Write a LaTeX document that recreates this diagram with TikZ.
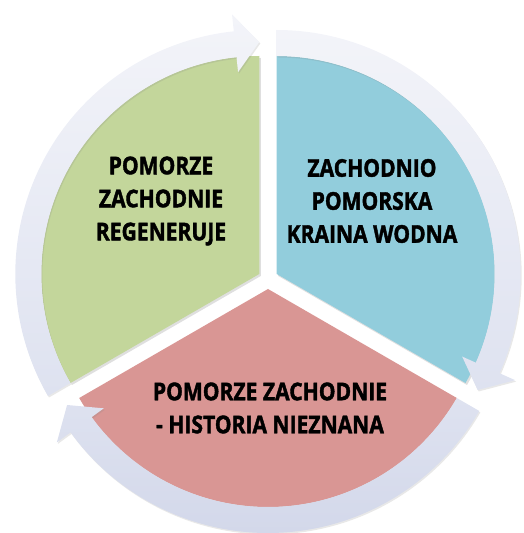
\documentclass[tikz,border=0pt]{standalone}
\usepackage{fontspec}
\setmainfont{Open Sans}[FakeStretch=0.86, BoldFeatures={FakeBold=1.6}]
\usetikzlibrary{shadows}
\definecolor{segGreen}{RGB}{195,214,155}
\definecolor{segBlue}{RGB}{146,205,220}
\definecolor{segPink}{RGB}{217,150,148}
\definecolor{ringLight}{RGB}{243,244,249}
\definecolor{ringMid}{RGB}{222,226,240}
\definecolor{ringDark}{RGB}{211,216,234}
\tikzset{
  sector/.style={drop shadow={opacity=0.25,shadow xshift=1.5pt,shadow yshift=-2pt}},
  ring/.style={drop shadow={opacity=0.18,shadow xshift=1pt,shadow yshift=-1.5pt}},
  label/.style={font=\bfseries\fontsize{24.5}{33}\selectfont, align=center, text=black, inner sep=0pt}
}
\begin{document}
\begin{tikzpicture}[x=1pt,y=1pt]
\useasboundingbox (0,0) rectangle (523,533);
% sector centres (each sector is pushed out along its bisector)
\coordinate (cg) at (259.3,259);
\coordinate (cb) at (276.7,259);
\coordinate (cp) at (268,244);
% sectors
\path[sector,fill=segGreen] (cg) -- ++(90:218pt) arc[start angle=90,end angle=210,radius=218pt] -- cycle;
\path[sector,fill=segBlue] (cb) -- ++(-30:218pt) arc[start angle=-30,end angle=90,radius=218pt] -- cycle;
\path[sector,fill=segPink] (cp) -- ++(210:218pt) arc[start angle=210,end angle=330,radius=218pt] -- cycle;
% ring arrows
\begin{scope}[shift={(cg)}]
\path[ring,top color=ringLight,bottom color=ringMid]
  (210:244pt) arc[start angle=210,end angle=96,radius=244pt]
  -- (96:261pt) -- (90:232pt) -- (96:203pt) -- (96:218pt)
  arc[start angle=96,end angle=210,radius=218pt] -- cycle;
\end{scope}
\begin{scope}[shift={(cb)}]
\path[ring,top color=ringLight,bottom color=ringMid]
  (90:244pt) arc[start angle=90,end angle=-24,radius=244pt]
  -- (-24:261pt) -- (-30:232pt) -- (-24:203pt) -- (-24:218pt)
  arc[start angle=-24,end angle=90,radius=218pt] -- cycle;
\end{scope}
\begin{scope}[shift={(cp)}]
\path[ring,top color=ringMid,bottom color=ringDark]
  (-30:244pt) arc[start angle=-30,end angle=-144,radius=244pt]
  -- (-144:261pt) -- (-150:232pt) -- (-144:203pt) -- (-144:218pt)
  arc[start angle=-144,end angle=-30,radius=218pt] -- cycle;
\end{scope}
% labels
\node[label] (tg) at (161,332) {POMORZE\\ZACHODNIE\\REGENERUJE};
\node[label] (tb) at (372,332) {ZACHODNIO\\POMORSKA\\KRAINA WODNA};
\node[label] (tp) at (270,125) {POMORZE ZACHODNIE\\- HISTORIA NIEZNANA};
\end{tikzpicture}
\end{document}
